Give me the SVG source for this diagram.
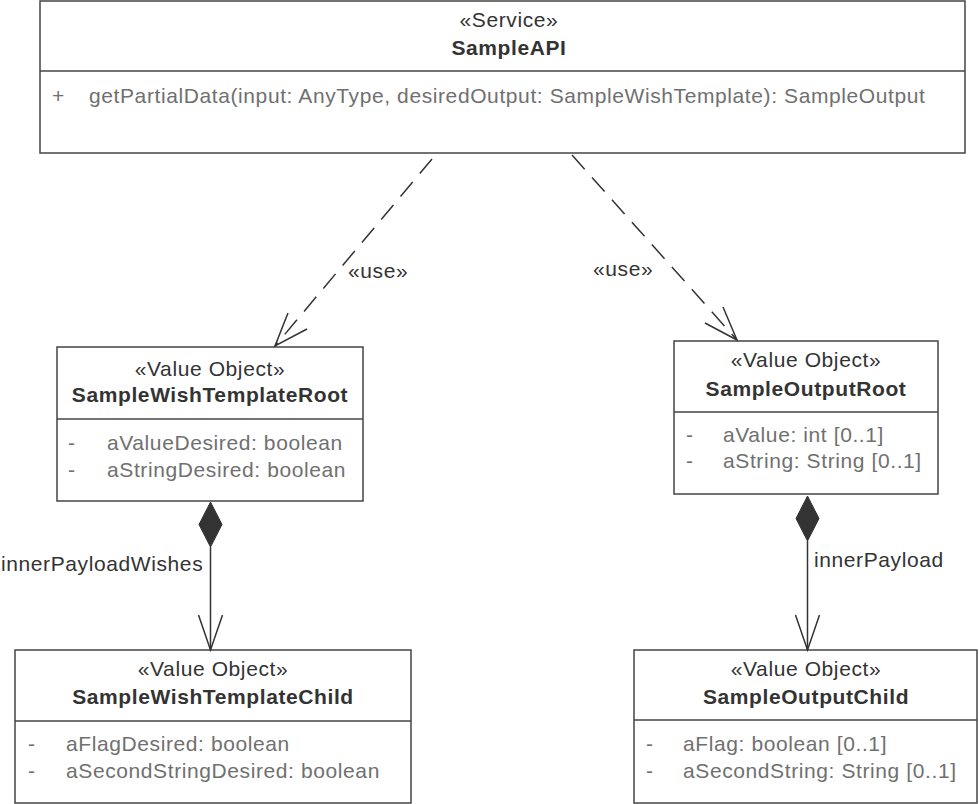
<svg xmlns="http://www.w3.org/2000/svg" width="979" height="804" viewBox="0 0 979 804">
<style>
.box{fill:#fff;stroke:#444;stroke-width:1.5}
.div{stroke:#444;stroke-width:1.5}
text{font-family:"Liberation Sans",Arial,Helvetica,sans-serif;font-size:21px;letter-spacing:0.6px}
.st{fill:#333;text-anchor:middle}
.nm{fill:#333;text-anchor:middle;font-weight:bold}
.at{fill:#707070}
.lbl{fill:#333}
.edge{stroke:#333;stroke-width:1.5;fill:none}
.dash{stroke-dasharray:19 11}
.dia{fill:#333;stroke:#333;stroke-width:1}
</style>
<g id="SampleAPI">
<rect class="box" x="40" y="1" width="925" height="152"/>
<line class="div" x1="40" y1="71" x2="965" y2="71"/>
<text class="st" x="509" y="27">«Service»</text>
<text class="nm" x="509" y="55">SampleAPI</text>
<text class="at" x="52" y="103">+</text>
<text class="at" x="89" y="103">getPartialData(input: AnyType, desiredOutput: SampleWishTemplate): SampleOutput</text>
</g>
<g id="SampleWishTemplateRoot">
<rect class="box" x="57" y="347" width="306" height="154"/>
<line class="div" x1="57" y1="419" x2="363" y2="419"/>
<text class="st" x="210" y="376">«Value Object»</text>
<text class="nm" x="210" y="402">SampleWishTemplateRoot</text>
<text class="at" x="68" y="450">-</text>
<text class="at" x="107" y="450">aValueDesired: boolean</text>
<text class="at" x="68" y="477">-</text>
<text class="at" x="107" y="477">aStringDesired: boolean</text>
</g>
<g id="SampleOutputRoot">
<rect class="box" x="674" y="341" width="264" height="153"/>
<line class="div" x1="674" y1="412" x2="938" y2="412"/>
<text class="st" x="806" y="367">«Value Object»</text>
<text class="nm" x="806" y="396">SampleOutputRoot</text>
<text class="at" x="686" y="442">-</text>
<text class="at" x="723" y="442">aValue: int [0..1]</text>
<text class="at" x="686" y="468">-</text>
<text class="at" x="723" y="468">aString: String [0..1]</text>
</g>
<g id="SampleWishTemplateChild">
<rect class="box" x="15" y="650" width="396" height="153"/>
<line class="div" x1="15" y1="721" x2="411" y2="721"/>
<text class="st" x="213" y="676">«Value Object»</text>
<text class="nm" x="213" y="704">SampleWishTemplateChild</text>
<text class="at" x="28" y="751">-</text>
<text class="at" x="66" y="751">aFlagDesired: boolean</text>
<text class="at" x="28" y="778">-</text>
<text class="at" x="66" y="778">aSecondStringDesired: boolean</text>
</g>
<g id="SampleOutputChild">
<rect class="box" x="634" y="650" width="343" height="153"/>
<line class="div" x1="634" y1="720" x2="977" y2="720"/>
<text class="st" x="806" y="676">«Value Object»</text>
<text class="nm" x="806" y="704">SampleOutputChild</text>
<text class="at" x="646" y="751">-</text>
<text class="at" x="683" y="751">aFlag: boolean [0..1]</text>
<text class="at" x="646" y="778">-</text>
<text class="at" x="683" y="778">aSecondString: String [0..1]</text>
</g>
<g id="connectors">
<line class="edge dash" x1="432" y1="159" x2="275" y2="346"/>
<polyline class="edge" points="288,313 275,346 307,329"/>
<text class="lbl" x="348" y="278">«use»</text>
<line class="edge dash" x1="572" y1="155" x2="737" y2="340"/>
<polyline class="edge" points="723,307 737,340 705,323"/>
<text class="lbl" x="593" y="276">«use»</text>
<polygon class="dia" points="210.5,502 222,524.5 210.5,547 199,524.5"/>
<line class="edge" x1="210.5" y1="547" x2="210.5" y2="650"/>
<polyline class="edge" points="198.5,615 210.5,650 222.5,615"/>
<text class="lbl" x="1" y="571">innerPayloadWishes</text>
<polygon class="dia" points="807.5,496 819,518.5 807.5,541 796,518.5"/>
<line class="edge" x1="807.5" y1="541" x2="807.5" y2="650"/>
<polyline class="edge" points="795.5,615 807.5,650 819.5,615"/>
<text class="lbl" x="814" y="567">innerPayload</text>
</g>
</svg>
